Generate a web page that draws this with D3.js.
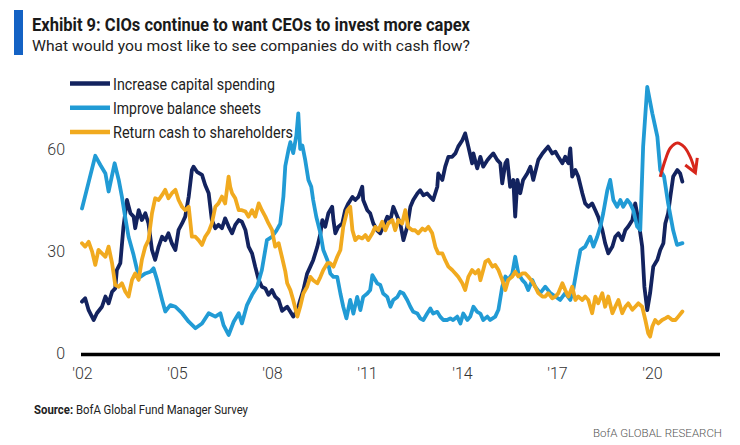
<!DOCTYPE html>
<html><head><meta charset="utf-8">
<script src="https://cdn.jsdelivr.net/npm/d3@7"></script>
<style>
html,body{margin:0;padding:0;background:#fff;}
svg{display:block;font-family:Roboto,"Open Sans",sans-serif;}
</style></head>
<body><svg id="chart" width="740" height="445"></svg>
<script>
// ---- data (decimal year, % of respondents) ----
const seriesNames = ["Increase capital spending","Improve balance sheets","Return cash to shareholders"];
const seriesColors = ["#13235f","#219bd5","#f1aa1f"];
const tickYears = [2002,2005,2008,2011,2014,2017,2020];
const tickLabels = ["'02","'05","'08","'11","'14","'17","'20"];
const yTicks = [0,30,60];

const capex = [[2002.00,15.1],[2002.10,16.1],[2002.21,12.6],[2002.37,9.7],[2002.47,11.7],[2002.63,13.6],[2002.74,16.6],[2002.84,14.6],[2002.95,18],[2003.05,19],[2003.10,24.4],[2003.21,26.4],[2003.31,37.2],[2003.42,45],[2003.53,41.1],[2003.63,40.1],[2003.68,36.7],[2003.79,42],[2003.89,39.1],[2004.00,41.1],[2004.10,38.1],[2004.21,30.3],[2004.31,27.4],[2004.42,31.3],[2004.53,34.2],[2004.63,33.2],[2004.73,35.2],[2004.84,32.2],[2004.95,30.3],[2005.05,36.2],[2005.16,38.1],[2005.26,40.1],[2005.37,46],[2005.47,53.8],[2005.52,54.8],[2005.63,53.3],[2005.79,52.4],[2005.89,49.4],[2006.00,47],[2006.10,39.1],[2006.21,36.7],[2006.31,37.7],[2006.42,36.7],[2006.52,39.6],[2006.63,37.2],[2006.74,35.2],[2006.84,37.7],[2006.95,39.1],[2007.05,38.6],[2007.16,36.2],[2007.26,31.3],[2007.37,29.3],[2007.47,25.4],[2007.58,21.5],[2007.68,19.5],[2007.79,19],[2007.89,17.1],[2008.00,18.5],[2008.10,16.6],[2008.21,15.6],[2008.32,12.4],[2008.48,13.6],[2008.58,12.1],[2008.67,10.7],[2008.80,12.6],[2008.89,15.6],[2008.99,18.5],[2009.11,23.4],[2009.21,25.4],[2009.30,27.3],[2009.43,31.2],[2009.53,35.2],[2009.59,39.1],[2009.68,37.1],[2009.78,41.1],[2009.90,43],[2009.94,39.1],[2010.00,35.2],[2010.09,37.1],[2010.22,38.1],[2010.31,42],[2010.41,44],[2010.54,45.9],[2010.63,45],[2010.73,45.9],[2010.85,48.9],[2010.88,45],[2011.01,42],[2011.10,41.1],[2011.20,38.1],[2011.32,36.1],[2011.42,35.2],[2011.51,37.1],[2011.64,40.1],[2011.74,39.1],[2011.83,43],[2011.96,40.1],[2012.05,38.1],[2012.15,33.2],[2012.27,37.1],[2012.37,43],[2012.46,45],[2012.59,46.9],[2012.68,47.9],[2012.78,46.4],[2012.90,46.9],[2013.00,45.9],[2013.09,45],[2013.22,48.9],[2013.25,52.8],[2013.38,50.9],[2013.47,54.8],[2013.57,57.7],[2013.69,57.7],[2013.79,58.7],[2013.88,60.7],[2014.01,62.6],[2014.10,64.6],[2014.20,60.7],[2014.32,55.8],[2014.36,58.7],[2014.48,54.3],[2014.58,57.7],[2014.67,54.8],[2014.80,56.7],[2014.89,57.7],[2014.99,58.7],[2015.11,56.8],[2015.21,55.8],[2015.27,49.9],[2015.37,55.8],[2015.43,56.8],[2015.52,48.9],[2015.62,50.9],[2015.68,40.1],[2015.75,50.9],[2015.84,47],[2015.93,50.9],[2016.06,52.8],[2016.16,54.8],[2016.25,50.9],[2016.41,56.8],[2016.54,58.7],[2016.63,59.7],[2016.72,60.7],[2016.85,58.7],[2016.95,59.2],[2017.04,57.7],[2017.17,55.8],[2017.26,57.7],[2017.36,55.8],[2017.42,60.2],[2017.48,51.9],[2017.58,53.8],[2017.67,51.9],[2017.80,47],[2017.89,44],[2017.99,43],[2018.11,44],[2018.21,42],[2018.30,40.1],[2018.43,36.2],[2018.52,32.3],[2018.62,29.3],[2018.75,31.3],[2018.84,34.2],[2018.94,35.2],[2019.06,33.2],[2019.16,36.2],[2019.25,37.2],[2019.38,39.1],[2019.47,44],[2019.57,39.1],[2019.69,31.3],[2019.76,19.5],[2019.85,12.6],[2019.94,17.6],[2020.04,25.4],[2020.17,27.4],[2020.26,30.3],[2020.36,32.3],[2020.42,38.1],[2020.51,41.1],[2020.58,46],[2020.67,51.9],[2020.80,53.8],[2020.89,52.8],[2020.96,50.4]];

const balance = [[2002.00,42.5],[2002.20,49.9],[2002.42,58],[2002.58,55.3],[2002.74,52.8],[2002.84,47.5],[2003.03,55.8],[2003.16,50.9],[2003.26,46],[2003.37,39.6],[2003.47,34.2],[2003.63,28.8],[2003.74,24.4],[2003.84,22.4],[2004.00,23.4],[2004.16,23.9],[2004.26,24.9],[2004.37,21.5],[2004.53,15.6],[2004.63,12.2],[2004.79,14.1],[2004.95,13.6],[2005.16,11.7],[2005.37,9.2],[2005.58,7.3],[2005.79,8.7],[2006.00,11.7],[2006.21,10.7],[2006.37,11.7],[2006.47,8.2],[2006.63,5.3],[2006.79,9.2],[2006.95,11.7],[2007.05,8.7],[2007.21,14.1],[2007.37,17.1],[2007.53,19.5],[2007.68,24.4],[2007.84,33.2],[2008.00,34.2],[2008.14,36],[2008.26,38],[2008.36,46],[2008.42,55],[2008.52,59.7],[2008.58,62],[2008.67,58.8],[2008.77,64],[2008.83,70.5],[2008.89,60],[2008.96,61],[2009.05,56.7],[2009.15,50.9],[2009.24,48.9],[2009.30,45],[2009.40,40],[2009.53,35.2],[2009.62,30.3],[2009.75,27.3],[2009.84,23.4],[2009.94,22.4],[2010.06,22.4],[2010.16,17.5],[2010.25,13.6],[2010.35,10.2],[2010.47,15.6],[2010.57,11.6],[2010.69,16.5],[2010.79,12.6],[2010.88,16.5],[2011.01,17.5],[2011.10,18.5],[2011.17,22.9],[2011.32,20.5],[2011.42,20],[2011.51,17.5],[2011.64,16.5],[2011.74,13.6],[2011.83,15.6],[2011.96,16.5],[2012.05,18],[2012.15,17.5],[2012.27,15.6],[2012.37,13.6],[2012.46,12.1],[2012.59,11.6],[2012.68,10.2],[2012.78,9.7],[2012.90,11.6],[2013.00,13.1],[2013.09,11.6],[2013.22,12.1],[2013.31,10.7],[2013.41,9.7],[2013.53,9.7],[2013.63,10.2],[2013.72,9.7],[2013.85,10.7],[2013.95,8.7],[2014.04,11.6],[2014.17,9.7],[2014.26,10.7],[2014.36,13.6],[2014.48,12.1],[2014.58,11.6],[2014.67,9.7],[2014.80,10.7],[2014.89,9.7],[2015.05,10.7],[2015.15,12.7],[2015.27,19.5],[2015.37,22.5],[2015.46,21.5],[2015.59,23.4],[2015.68,28.3],[2015.78,23.4],[2015.90,21.5],[2016.00,20.5],[2016.09,18.5],[2016.22,21.5],[2016.31,19.5],[2016.47,17.6],[2016.63,19.5],[2016.79,17.6],[2016.95,16.6],[2017.10,15.6],[2017.26,17.6],[2017.42,15.6],[2017.51,18.5],[2017.64,25.4],[2017.74,30.3],[2017.89,31.3],[2018.05,34.2],[2018.15,31.3],[2018.27,34.2],[2018.37,37.2],[2018.46,41.1],[2018.59,47.9],[2018.68,50.9],[2018.78,45],[2018.90,43],[2019.00,45],[2019.09,43],[2019.22,45],[2019.31,44],[2019.41,42],[2019.53,37.2],[2019.63,36.2],[2019.72,60.7],[2019.85,78.3],[2020.01,70.5],[2020.17,63.6],[2020.26,53.8],[2020.38,51.9],[2020.51,44],[2020.67,36],[2020.79,31.8],[2020.96,32.3]];

const cashReturn = [[2002.00,32.3],[2002.10,31.3],[2002.21,32.7],[2002.32,29.8],[2002.42,25.9],[2002.52,30.3],[2002.63,29.3],[2002.74,28.3],[2002.84,31.3],[2002.95,26.4],[2003.05,20],[2003.16,19.5],[2003.26,20.5],[2003.37,18],[2003.47,16.6],[2003.58,21.5],[2003.68,23.4],[2003.79,21.5],[2003.89,27.4],[2004.00,31.3],[2004.10,33.2],[2004.21,41.1],[2004.31,45.5],[2004.42,45],[2004.53,46.5],[2004.63,48],[2004.73,45.5],[2004.84,47],[2004.95,48],[2005.05,45],[2005.16,43],[2005.26,42],[2005.37,43],[2005.47,34.2],[2005.58,34.2],[2005.68,33.2],[2005.79,31.8],[2005.89,34.2],[2006.00,35.7],[2006.10,38.1],[2006.21,43],[2006.31,44],[2006.42,46],[2006.52,44],[2006.63,51.9],[2006.68,48.9],[2006.74,47],[2006.84,45.5],[2006.95,42],[2007.05,42],[2007.16,41.6],[2007.26,40.1],[2007.37,42],[2007.47,40.1],[2007.58,44],[2007.68,42],[2007.79,40.1],[2007.89,38.1],[2008.00,36.2],[2008.10,31.3],[2008.21,32.3],[2008.32,28],[2008.42,24],[2008.48,20.5],[2008.58,18.5],[2008.67,15.6],[2008.80,10.7],[2008.89,13.6],[2008.99,17.5],[2009.11,19.5],[2009.21,22.4],[2009.30,21.4],[2009.43,20.5],[2009.53,22.4],[2009.62,24.4],[2009.75,26.4],[2009.84,26.4],[2009.94,25.4],[2010.06,28.3],[2010.16,30.3],[2010.25,37.1],[2010.38,42],[2010.47,43],[2010.54,36.1],[2010.63,33.2],[2010.73,34.2],[2010.85,33.7],[2010.95,34.7],[2011.04,33.2],[2011.17,35.2],[2011.26,37.1],[2011.36,36.1],[2011.48,38.6],[2011.58,36.1],[2011.67,38.1],[2011.80,39.1],[2011.89,36.1],[2011.99,39.1],[2012.11,38.1],[2012.21,42],[2012.30,37.1],[2012.43,36.1],[2012.52,36.1],[2012.62,35.2],[2012.75,36.6],[2012.84,36.1],[2012.94,37.1],[2013.06,35.2],[2013.16,31.2],[2013.25,29.3],[2013.38,29.3],[2013.47,27.3],[2013.57,25.4],[2013.69,24.4],[2013.79,23.4],[2013.88,22.4],[2014.01,20.5],[2014.10,18.5],[2014.20,22.4],[2014.32,24.4],[2014.42,23.4],[2014.52,24.4],[2014.58,21.4],[2014.67,24.4],[2014.74,26.9],[2014.83,27.4],[2014.96,25.4],[2015.05,25.9],[2015.15,24.4],[2015.27,21.5],[2015.37,18.5],[2015.46,21.5],[2015.59,22.5],[2015.68,23.9],[2015.78,22.5],[2015.90,23.4],[2016.00,23.4],[2016.09,22.5],[2016.22,21],[2016.31,19.5],[2016.41,17.6],[2016.54,16.6],[2016.63,16.6],[2016.72,17.6],[2016.85,16.1],[2016.95,16.6],[2017.04,17.6],[2017.17,20.5],[2017.26,18.5],[2017.36,16.6],[2017.48,19.5],[2017.58,15.6],[2017.67,16.6],[2017.80,15.6],[2017.89,16.6],[2017.99,15.6],[2018.11,11.7],[2018.21,16.6],[2018.30,14.6],[2018.43,17.6],[2018.52,13.6],[2018.62,16.6],[2018.75,11.7],[2018.84,13.6],[2018.94,15.6],[2019.06,11.7],[2019.16,13.6],[2019.25,14.6],[2019.38,12.7],[2019.47,13.6],[2019.57,14.6],[2019.69,13.6],[2019.79,9.7],[2019.88,5.8],[2019.94,4.8],[2020.01,7.8],[2020.10,9.7],[2020.20,8.7],[2020.32,9.7],[2020.42,10.2],[2020.51,10.7],[2020.64,9.7],[2020.74,9.7],[2020.83,10.7],[2020.96,12.2]];

// annotation arrow (data units)
const arrowArc = [[2020.26,51.8],[2020.42,56.8],[2020.58,60.3],[2020.80,61.8],[2021.02,60.6],[2021.21,57.6],[2021.37,53.2]];
const arrowHead = [[2021.05,55.3],[2021.37,53.0],[2021.43,57.4]];

// ---- drawing ----
const svg = d3.select("#chart");
const x = d3.scaleLinear().domain([2002, 2020]).range([82, 652]);
const y = d3.scaleLinear().domain([0, 60]).range([353, 149]);

// title block
svg.append("rect").attr("x",14).attr("y",10).attr("width",9).attr("height",45).attr("fill","#1462c4");
svg.append("text").attr("x",32).attr("y",30.5).attr("font-size",18).attr("font-weight",700).attr("fill","#1a1a1a")
  .attr("textLength",438).attr("lengthAdjust","spacingAndGlyphs")
  .text("Exhibit 9: CIOs continue to want CEOs to invest more capex");
svg.append("text").attr("x",32).attr("y",51).attr("font-size",15.5).attr("fill","#222")
  .attr("textLength",438).attr("lengthAdjust","spacingAndGlyphs")
  .text("What would you most like to see companies do with cash flow?");

// legend
const legendW = [162, 148, 180];
seriesNames.forEach((n,i)=>{
  const ly = 83.5 + i*24.2;
  svg.append("line").attr("x1",70).attr("x2",110).attr("y1",ly).attr("y2",ly)
    .attr("stroke",seriesColors[i]).attr("stroke-width",4.5);
  svg.append("text").attr("x",113).attr("y",ly+6).attr("font-size",17).attr("fill","#222")
    .attr("textLength",legendW[i]).attr("lengthAdjust","spacingAndGlyphs").text(n);
});

// y tick labels
svg.append("g").selectAll("text").data(yTicks).join("text")
  .attr("x",65).attr("y",d=>y(d)).attr("dy","0.36em").attr("text-anchor","end")
  .attr("font-size",16).attr("font-weight",300).attr("fill","#333").text(d=>d);

// x axis
const xAxis = d3.axisBottom(x).tickValues(tickYears).tickFormat((d,i)=>tickLabels[i]).tickSize(0).tickPadding(14);
const gx = svg.append("g").attr("transform","translate(0,354)").call(xAxis);
gx.select(".domain").remove();
gx.selectAll("text").attr("font-size",16).attr("font-weight",300).attr("fill","#333").attr("font-family","Roboto,sans-serif");
svg.append("line").attr("x1",81).attr("x2",720).attr("y1",354.5).attr("y2",354.5).attr("stroke","#000").attr("stroke-width",3.5);

// lines
const line = d3.line().x(d=>x(d[0])).y(d=>y(d[1]));
[capex, balance, cashReturn].forEach((s,i)=>{
  svg.append("path").datum(s).attr("d",line).attr("fill","none")
    .attr("stroke",seriesColors[i]).attr("stroke-width",3.8)
    .attr("stroke-linejoin","round").attr("stroke-linecap","round");
});

// red arrow annotation
svg.append("path").datum(arrowArc).attr("d",d3.line().x(d=>x(d[0])).y(d=>y(d[1])).curve(d3.curveCatmullRom))
  .attr("fill","none").attr("stroke","#d7261b").attr("stroke-width",3);
svg.append("path").datum(arrowHead).attr("d",line)
  .attr("fill","none").attr("stroke","#d7261b").attr("stroke-width",3).attr("stroke-linejoin","miter");

// footer
const src = svg.append("text").attr("x",34).attr("y",414).attr("font-size",12.5).attr("fill","#222")
  .attr("textLength",214).attr("lengthAdjust","spacingAndGlyphs");
src.append("tspan").attr("font-weight",700).text("Source:");
src.append("tspan").text("  BofA Global Fund Manager Survey");
svg.append("text").attr("x",722).attr("y",437).attr("text-anchor","end").attr("font-size",11.5).attr("font-weight",300)
  .attr("fill","#555").text("BofA GLOBAL RESEARCH");
</script></body></html>
